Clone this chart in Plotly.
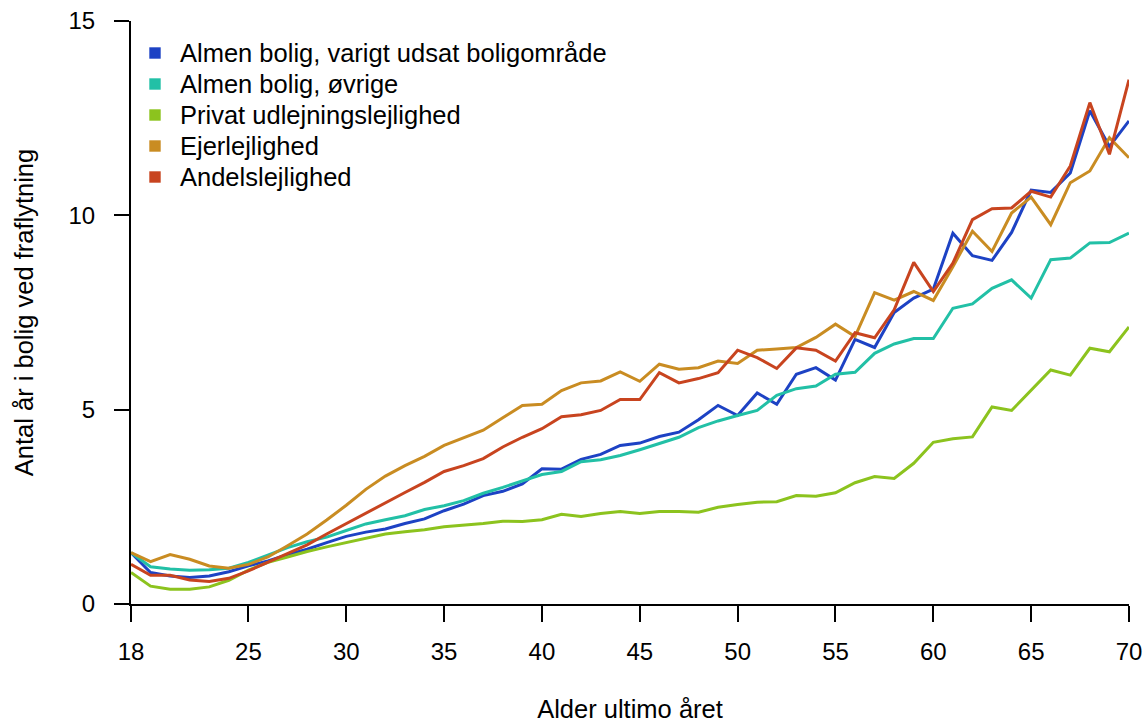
import plotly.graph_objects as go

# Age positions on the x axis (first position carries the "18" label)
ages = list(range(19, 71))

tick_vals = [19, 25, 30, 35, 40, 45, 50, 55, 60, 65, 70]
tick_text = ["18", "25", "30", "35", "40", "45", "50", "55", "60", "65", "70"]

almen_varigt = [1.32, 0.81, 0.72, 0.68, 0.72, 0.83, 0.98, 1.11, 1.27, 1.41,
                1.58, 1.74, 1.85, 1.93, 2.07, 2.19, 2.40, 2.57, 2.79, 2.90,
                3.09, 3.48, 3.47, 3.72, 3.85, 4.08, 4.14, 4.31, 4.42, 4.74,
                5.11, 4.85, 5.43, 5.14, 5.91, 6.08, 5.76, 6.81, 6.60, 7.50,
                7.87, 8.10, 9.54, 8.96, 8.84, 9.56, 10.65, 10.59, 11.09, 12.69,
                11.77, 12.43]

almen_oevrige = [1.32, 0.96, 0.90, 0.87, 0.88, 0.92, 1.07, 1.27, 1.45, 1.60,
                 1.72, 1.89, 2.06, 2.17, 2.27, 2.43, 2.53, 2.66, 2.85, 3.00,
                 3.16, 3.33, 3.41, 3.66, 3.71, 3.82, 3.97, 4.12, 4.29, 4.54,
                 4.71, 4.85, 4.98, 5.37, 5.54, 5.61, 5.91, 5.96, 6.45, 6.69,
                 6.83, 6.83, 7.61, 7.72, 8.12, 8.34, 7.87, 8.86, 8.90, 9.29,
                 9.30, 9.54]

privat_udlejning = [0.81, 0.46, 0.38, 0.38, 0.44, 0.61, 0.87, 1.07, 1.21, 1.35,
                    1.47, 1.58, 1.70, 1.80, 1.86, 1.91, 1.99, 2.03, 2.07, 2.13,
                    2.12, 2.17, 2.31, 2.25, 2.33, 2.38, 2.33, 2.38, 2.38, 2.36,
                    2.49, 2.56, 2.62, 2.63, 2.79, 2.77, 2.86, 3.12, 3.28, 3.23,
                    3.62, 4.16, 4.25, 4.30, 5.07, 4.98, 5.50, 6.02, 5.89, 6.58,
                    6.49, 7.13]

ejerlejlighed = [1.32, 1.09, 1.27, 1.15, 0.98, 0.92, 1.02, 1.21, 1.50, 1.80,
                 2.16, 2.54, 2.95, 3.29, 3.56, 3.80, 4.08, 4.28, 4.47, 4.79,
                 5.11, 5.14, 5.49, 5.69, 5.74, 5.97, 5.73, 6.17, 6.04, 6.08,
                 6.25, 6.19, 6.53, 6.56, 6.60, 6.86, 7.20, 6.88, 8.01, 7.82,
                 8.04, 7.81, 8.68, 9.59, 9.07, 10.06, 10.47, 9.76, 10.84, 11.14,
                 12.00, 11.48]

andelslejlighed = [1.02, 0.74, 0.74, 0.62, 0.58, 0.66, 0.85, 1.07, 1.28, 1.52,
                   1.80, 2.07, 2.34, 2.62, 2.87, 3.13, 3.41, 3.56, 3.74, 4.04,
                   4.29, 4.51, 4.82, 4.87, 4.98, 5.26, 5.26, 5.95, 5.69, 5.80,
                   5.95, 6.53, 6.34, 6.06, 6.59, 6.53, 6.25, 6.98, 6.85, 7.57,
                   8.79, 8.04, 8.77, 9.89, 10.17, 10.19, 10.62, 10.47, 11.27, 12.90,
                   11.57, 13.49]

series_names = [
    "Almen bolig, varigt udsat boligområde",
    "Almen bolig, øvrige",
    "Privat udlejningslejlighed",
    "Ejerlejlighed",
    "Andelslejlighed",
]
series_values = [almen_varigt, almen_oevrige, privat_udlejning, ejerlejlighed, andelslejlighed]
series_colors = ["#1d42c4", "#22c0a6", "#8cc31e", "#c98c22", "#c8441f"]

FONT = "Liberation Sans, Arial, sans-serif"
TEXT_SIZE = 25.5
TICK_SIZE = 24

W, H = 1145, 724
M_L, M_R, M_T, M_B = 131, 16, 21, 120
PLOT_W = W - M_L - M_R
PLOT_H = H - M_T - M_B

fig = go.Figure()

for name, vals, col in zip(series_names, series_values, series_colors):
    fig.add_trace(go.Scatter(
        x=ages, y=vals, mode="lines", name=name,
        line=dict(color=col, width=3),
        showlegend=False, hoverinfo="x+y",
    ))

# Key in the upper-left corner: colour squares with the series names
key_square_x = (155 - M_L) / PLOT_W
key_text_x = (178 - M_L) / PLOT_W
key_row_px = [53.0, 84.0, 115.0, 146.0, 177.0]
for name, col, row in zip(series_names, series_colors, key_row_px):
    yp = 1 - (row - M_T) / PLOT_H
    fig.add_shape(
        type="rect", xref="paper", yref="paper",
        xsizemode="pixel", ysizemode="pixel",
        xanchor=key_square_x, yanchor=yp,
        x0=-5.7, x1=5.7, y0=-5.7, y1=5.7,
        fillcolor=col, line=dict(width=0),
    )
    fig.add_annotation(
        xref="paper", yref="paper", x=key_text_x, y=yp,
        xanchor="left", yanchor="middle", text=name, showarrow=False,
        font=dict(family=FONT, size=TEXT_SIZE, color="black"),
    )

fig.update_layout(
    width=W, height=H,
    margin=dict(l=M_L, r=M_R, t=M_T, b=M_B, autoexpand=False),
    paper_bgcolor="white", plot_bgcolor="white",
    font=dict(family=FONT, size=TICK_SIZE, color="black"),
    showlegend=False,
)

fig.update_xaxes(
    range=[19, 70], tickmode="array", tickvals=tick_vals, ticktext=tick_text,
    showline=True, linecolor="black", linewidth=2,
    ticks="outside", ticklen=16, tickwidth=2, tickcolor="black",
    ticklabelstandoff=9, automargin=False,
    showgrid=False, zeroline=False,
    tickfont=dict(family=FONT, size=TICK_SIZE, color="black"),
    title=dict(text="Alder ultimo året", standoff=36,
               font=dict(family=FONT, size=TEXT_SIZE, color="black")),
)

fig.update_yaxes(
    range=[0, 15], tickmode="array", tickvals=[0, 5, 10, 15],
    showline=True, linecolor="black", linewidth=2,
    ticks="outside", ticklen=15, tickwidth=2, tickcolor="black",
    ticklabelstandoff=14, automargin=False,
    showgrid=False, zeroline=False,
    tickfont=dict(family=FONT, size=TICK_SIZE, color="black"),
    title=dict(text="Antal år i bolig ved fraflytning", standoff=28,
               font=dict(family=FONT, size=TEXT_SIZE, color="black")),
)

fig.write_html("out.html")
